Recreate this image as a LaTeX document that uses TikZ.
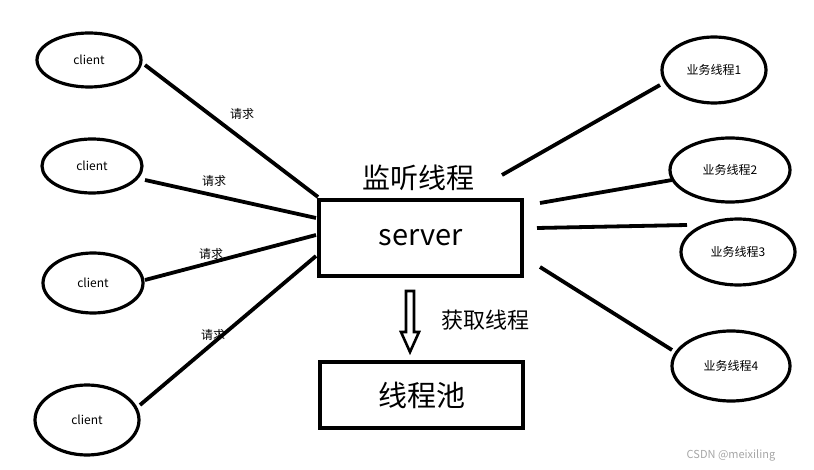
\documentclass[tikz,border=0pt]{standalone}
\usepackage{fontspec}
\setmainfont{Noto Sans CJK SC}
\usetikzlibrary{shapes.geometric}
\begin{document}
\begin{tikzpicture}[x=1pt,y=-1pt,
  ell/.style={draw,line width=3.2pt,ellipse,inner sep=0pt,font=\fontsize{12}{14}\selectfont},
  box/.style={draw,line width=3.6pt,minimum width=203pt,inner sep=0pt},
  ln/.style={line width=3.8pt},
  lab/.style={font=\fontsize{12}{14}\selectfont}]
\useasboundingbox (0,0) rectangle (814,470);
\node[ell,minimum width=104pt,minimum height=54pt] (c1) at (89,60) {client};
\node[ell,minimum width=100pt,minimum height=54pt] (c2) at (92,166) {client};
\node[ell,minimum width=100pt,minimum height=60pt] (c3) at (93,283) {client};
\node[ell,minimum width=104pt,minimum height=70pt] (c4) at (87,420) {client};
\node[ell,minimum width=104pt,minimum height=66pt] (w1) at (714,70) {业务线程1};
\node[ell,minimum width=120pt,minimum height=64pt] (w2) at (730,170) {业务线程2};
\node[ell,minimum width=114pt,minimum height=66pt] (w3) at (738,252) {业务线程3};
\node[ell,minimum width=118pt,minimum height=70pt] (w4) at (731,366) {业务线程4};
\node[box,minimum height=76pt,font=\fontsize{29}{32}\selectfont] (srv) at (420.5,238) {server};
\node[box,minimum height=66pt,font=\fontsize{29}{32}\selectfont] (pool) at (421.5,395) {线程池};
\node[font=\fontsize{28}{30}\selectfont] (lt) at (418,178) {监听线程};
\coordinate (s1) at (318,197); \coordinate (s2) at (316,218);
\coordinate (s3) at (316,235); \coordinate (s4) at (316,256);
\coordinate (r1) at (502,175); \coordinate (r2) at (540,203);
\coordinate (r3) at (537,228); \coordinate (r4) at (540,267);
\coordinate (e1) at (145,65); \coordinate (e2) at (145,180);
\coordinate (e3) at (145,280); \coordinate (e4) at (140,405);
\coordinate (f1) at (660,85); \coordinate (f2) at (672,180);
\coordinate (f3) at (687,225); \coordinate (f4) at (672,350);
\draw[ln] (e1) -- (s1); \draw[ln] (e2) -- (s2); \draw[ln] (e3) -- (s3); \draw[ln] (e4) -- (s4);
\draw[ln] (r1) -- (f1); \draw[ln] (r2) -- (f2); \draw[ln] (r3) -- (f3); \draw[ln] (r4) -- (f4);
\node[lab] (q1) at (242,114) {请求};
\node[lab] (q2) at (214,181) {请求};
\node[lab] (q3) at (211,254) {请求};
\node[lab] (q4) at (213,335) {请求};
\draw[line width=2.6pt,line join=miter] (406,291) -- (414,291) -- (414,332) -- (419,332) -- (410,352) -- (401,332) -- (406,332) -- cycle;
\node[font=\fontsize{22}{24}\selectfont] (hq) at (485,320) {获取线程};
\node[font=\fontsize{11}{13}\selectfont,text=gray!70] (wm) at (731,455) {CSDN @meixiling};
\end{tikzpicture}
\end{document}
